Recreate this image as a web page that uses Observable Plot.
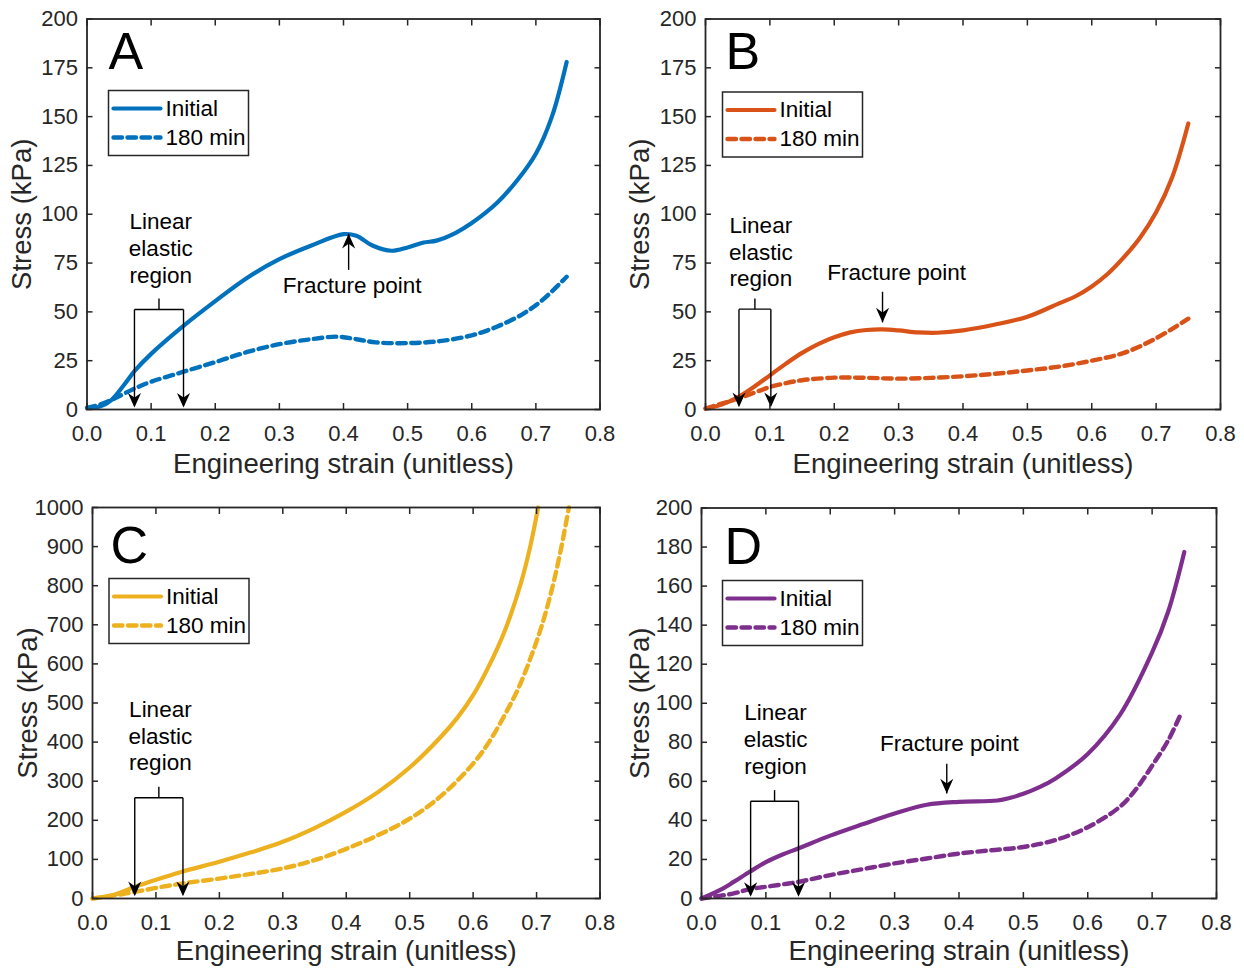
<!DOCTYPE html>
<html><head><meta charset="utf-8">
<script src="https://cdn.jsdelivr.net/npm/d3@7"></script>
<script src="https://cdn.jsdelivr.net/npm/@observablehq/plot@0.6"></script>
<style>
html,body{margin:0;padding:0;background:#fff;}
#fig{position:relative;width:1244px;height:969px;background:#fff;overflow:hidden;}
#fig > svg{position:absolute;}
</style></head><body><div id="fig"></div>
<script>
// ---------- tick labels ----------
const xTicks = [0, 0.1, 0.2, 0.3, 0.4, 0.5, 0.6, 0.7, 0.8];
const yTicksAB = [0, 25, 50, 75, 100, 125, 150, 175, 200];
const yTicksC = [0, 100, 200, 300, 400, 500, 600, 700, 800, 900, 1000];
const yTicksD = [0, 20, 40, 60, 80, 100, 120, 140, 160, 180, 200];
const seriesNames = ["Initial", "180 min"];
const xLabel = "Engineering strain (unitless)";
const yLabel = "Stress (kPa)";

// ---------- Panel A (blue) ----------
const A_initX = [0, 0.02, 0.037, 0.057, 0.075, 0.10, 0.148, 0.20, 0.25, 0.30, 0.35, 0.40, 0.42, 0.445, 0.475, 0.50, 0.525, 0.545, 0.575, 0.60, 0.64, 0.67, 0.70, 0.725, 0.748];
const A_initY = [0.8, 1.5, 4.6, 12.3, 20, 28.5, 42.2, 55.5, 67.5, 77, 84, 89.8, 89, 84, 81.3, 83, 85.5, 86.5, 90.5, 95.5, 106, 117, 131, 150, 178];
const A_agedX = [0, 0.02, 0.042, 0.073, 0.10, 0.148, 0.208, 0.25, 0.302, 0.35, 0.39, 0.42, 0.45, 0.50, 0.55, 0.60, 0.64, 0.68, 0.71, 0.748];
const A_agedY = [0.8, 2.5, 5.5, 10.6, 14.2, 19.1, 25.1, 29.5, 33.6, 36, 37.3, 36, 34.4, 34, 35, 38, 42.5, 49, 56, 68];

// ---------- Panel B (orange) ----------
const B_initX = [0, 0.025, 0.05, 0.075, 0.10, 0.125, 0.15, 0.175, 0.20, 0.225, 0.25, 0.275, 0.30, 0.33, 0.36, 0.40, 0.45, 0.50, 0.55, 0.575, 0.60, 0.625, 0.65, 0.675, 0.70, 0.725, 0.75];
const B_initY = [0.5, 2.5, 6.2, 11.5, 17.5, 23.5, 29, 33.5, 37, 39.5, 40.7, 41, 40.5, 39.5, 39.3, 40.5, 43.5, 47.5, 54.5, 58, 63, 69.5, 78, 88, 101, 119, 146.5];
const B_agedX = [0, 0.025, 0.05, 0.075, 0.10, 0.125, 0.15, 0.20, 0.25, 0.30, 0.35, 0.40, 0.45, 0.50, 0.55, 0.60, 0.65, 0.70, 0.75];
const B_agedY = [0.5, 3, 5.5, 8.5, 11.5, 13.5, 15, 16.3, 16.2, 15.8, 16.2, 17, 18.3, 20, 22, 25, 29, 36.5, 46.5];

// ---------- Panel C (yellow) ----------
const C_initX = [0, 0.035, 0.067, 0.10, 0.14, 0.20, 0.25, 0.30, 0.35, 0.40, 0.45, 0.50, 0.55, 0.575, 0.60, 0.625, 0.65, 0.675, 0.69, 0.7025];
const C_initY = [0, 10, 30, 48, 68, 94, 118, 145, 180, 222, 272, 335, 415, 462, 520, 595, 685, 805, 900, 1000];
const C_agedX = [0, 0.035, 0.067, 0.10, 0.14, 0.20, 0.25, 0.30, 0.35, 0.40, 0.45, 0.50, 0.55, 0.60, 0.625, 0.65, 0.672, 0.693, 0.709, 0.725, 0.738, 0.751];
const C_agedY = [0, 8, 17, 27, 38, 51, 63, 77, 98, 127, 162, 204, 263, 345, 400, 470, 540, 626, 702, 796, 890, 1000];

// ---------- Panel D (purple) ----------
const D_initX = [0, 0.033, 0.05, 0.075, 0.10, 0.125, 0.15, 0.20, 0.25, 0.30, 0.35, 0.40, 0.46, 0.48, 0.50, 0.525, 0.55, 0.60, 0.65, 0.70, 0.725, 0.75];
const D_initY = [0, 5.1, 8.5, 13.7, 18.6, 22.4, 25.6, 32.2, 38, 43.5, 48, 49.5, 50.2, 51.6, 53.6, 57, 61.5, 74, 94, 126, 147, 177.5];
const D_agedX = [0, 0.05, 0.075, 0.10, 0.15, 0.20, 0.25, 0.30, 0.35, 0.40, 0.45, 0.50, 0.55, 0.60, 0.65, 0.675, 0.70, 0.725, 0.746];
const D_agedY = [0, 2.6, 4.8, 6, 8.5, 12, 15, 18, 20.5, 23, 24.7, 26.4, 30, 36.5, 47, 56, 68, 81, 95.6];

// ---------- annotations (data coordinates) ----------
const linearText = "Linear\nelastic\nregion";
const fractureText = "Fracture point";
const A_bracket = {x1: 0.074, x2: 0.1505, yTop: 51.2, yStem: 56.9, yTip: 1, tx: 0.115, ty: 83};
const B_bracket = {x1: 0.052, x2: 0.1015, yTop: 51.4, yStem: 56.9, yTip: 1.2, tx: 0.086, ty: 81.2};
const C_bracket = {x1: 0.0666, x2: 0.1426, yTop: 257.7, yStem: 285.8, yTip: 6, tx: 0.107, ty: 418};
const D_bracket = {x1: 0.0763, x2: 0.1507, yTop: 49.8, yStem: 55.5, yTip: 0.9, tx: 0.115, ty: 81.9};
const A_fracture = {x: 0.408, yTail: 71.5, yTip: 90, up: true, tx: 0.4135, ty: 63.4};
const B_fracture = {x: 0.275, yTail: 60.3, yTip: 44.6, up: false, tx: 0.297, ty: 70.1};
const D_fracture = {x: 0.381, yTail: 69, yTip: 53.8, up: false, tx: 0.385, ty: 79.4};

// ---------- layout / style ----------
const panels = [
  {key: "A", color: "#0072BD", yMax: 200, yTicks: yTicksAB, init: [A_initX, A_initY], aged: [A_agedX, A_agedY], br: A_bracket, fr: A_fracture,
   left: 0, top: 0, width: 622, height: 485, ml: 86.5, mr: 22.5, mt: 18.5, mb: 76, letter: [21.5, 13.5], legend: [21.5, 71.5], xlabDy: 55, ylabDx: -64.5},
  {key: "B", color: "#D95319", yMax: 200, yTicks: yTicksAB, init: [B_initX, B_initY], aged: [B_agedX, B_agedY], br: B_bracket, fr: B_fracture,
   left: 622, top: 0, width: 622, height: 485, ml: 83, mr: 24, mt: 18.5, mb: 76, letter: [20, 13.5], legend: [17, 73], xlabDy: 55, ylabDx: -65},
  {key: "C", color: "#EDB120", yMax: 1000, yTicks: yTicksC, init: [C_initX, C_initY], aged: [C_agedX, C_agedY], br: C_bracket, fr: null,
   left: 0, top: 485, width: 622, height: 484, ml: 92, mr: 22.5, mt: 22, mb: 71, letter: [18, 18.5], legend: [16.5, 71], xlabDy: 53, ylabDx: -64},
  {key: "D", color: "#7E2F8E", yMax: 200, yTicks: yTicksD, init: [D_initX, D_initY], aged: [D_agedX, D_agedY], br: D_bracket, fr: D_fracture,
   left: 622, top: 485, width: 622, height: 484, ml: 79, mr: 28, mt: 22.5, mb: 71, letter: [23, 19.5], legend: [21, 72.5], xlabDy: 53, ylabDx: -61}
];

const axisColor = "#262626";
const arrowDown = {draw(ctx, size) {
  const r = Math.sqrt(size / Math.PI), h = 2 * r, w = 0.9 * r;
  ctx.moveTo(0, 0); ctx.lineTo(-w, -h); ctx.lineTo(0, -0.68 * h); ctx.lineTo(w, -h); ctx.closePath();
}};
const segShape = {draw(ctx, l) { ctx.moveTo(0, 0); ctx.lineTo(0, -l); }};

function pts(xs, ys) { return xs.map((x, i) => ({x, y: ys[i]})); }

function panel(p) {
  const fw = p.width - p.ml - p.mr, fh = p.height - p.mt - p.mb;
  const b = p.br;
  const xm = (b.x1 + b.x2) / 2;
  const segs = [
    {x1: b.x1, y1: b.yTop, x2: b.x2, y2: b.yTop},
    {x1: b.x1, y1: b.yTop, x2: b.x1, y2: b.yTip + 2 * (p.yMax / 400)},
    {x1: b.x2, y1: b.yTop, x2: b.x2, y2: b.yTip + 2 * (p.yMax / 400)},
    {x1: xm, y1: b.yTop, x2: xm, y2: b.yStem}
  ];
  const heads = [{x: b.x1, y: b.yTip, r: 0}, {x: b.x2, y: b.yTip, r: 0}];
  const marks = [
    Plot.line(pts(p.aged[0], p.aged[1]), {x: "x", y: "y", stroke: p.color, strokeWidth: 4.4, strokeDasharray: "8.5,5.5", curve: "catmull-rom"}),
    Plot.line(pts(p.init[0], p.init[1]), {x: "x", y: "y", stroke: p.color, strokeWidth: 4.2, curve: "catmull-rom"}),
    Plot.link(segs, {x1: "x1", y1: "y1", x2: "x2", y2: "y2", stroke: "black", strokeWidth: 1.4}),
    Plot.text([{x: b.tx, y: b.ty, t: linearText}], {x: "x", y: "y", text: "t", fontSize: 22.5, lineHeight: 1.19, lineAnchor: "middle", fill: "black"})
  ];
  if (p.fr) {
    const f = p.fr;
    marks.push(Plot.link([{x1: f.x, y1: f.yTail, x2: f.x, y2: f.yTip}], {x1: "x1", y1: "y1", x2: "x2", y2: "y2", stroke: "black", strokeWidth: 1.4}));
    heads.push({x: f.x, y: f.yTip, r: f.up ? 180 : 0});
    marks.push(Plot.text([{x: f.tx, y: f.ty, t: fractureText}], {x: "x", y: "y", text: "t", fontSize: 22.5, lineAnchor: "middle", fill: "black"}));
  }
  marks.push(Plot.dot(heads, {x: "x", y: "y", rotate: "r", symbol: arrowDown, r: 7.3, fill: "black", stroke: "none"}));
  // legend
  const [lx, ly] = p.legend;
  marks.push(
    Plot.frame({fill: "white", stroke: axisColor, strokeWidth: 1.5, insetLeft: lx, insetTop: ly, insetRight: fw - lx - 140, insetBottom: fh - ly - 65}),
    Plot.vector([0], {frameAnchor: "top-left", dx: lx + 5, dy: ly + 18, length: 47, rotate: 90, anchor: "start", shape: segShape, stroke: p.color, strokeWidth: 4.2}),
    Plot.vector([0], {frameAnchor: "top-left", dx: lx + 5, dy: ly + 47, length: 47, rotate: 90, anchor: "start", shape: segShape, stroke: p.color, strokeWidth: 4.4, strokeDasharray: "8.5,5.5"}),
    Plot.text([seriesNames[0]], {frameAnchor: "top-left", dx: lx + 57, dy: ly + 18, textAnchor: "start", lineAnchor: "middle", fontSize: 22.5, fill: "black"}),
    Plot.text([seriesNames[1]], {frameAnchor: "top-left", dx: lx + 57, dy: ly + 47, textAnchor: "start", lineAnchor: "middle", fontSize: 22.5, fill: "black"}),
    Plot.text([p.key], {frameAnchor: "top-left", dx: p.letter[0], dy: p.letter[1], textAnchor: "start", lineAnchor: "top", fontSize: 52, fill: "black"})
  );
  // axes
  marks.push(
    Plot.frame({stroke: axisColor, strokeWidth: 1.8}),
    Plot.axisX({anchor: "bottom", ticks: xTicks, tickSize: -6, tickPadding: 21.5, tickFormat: d3.format(".1f"), label: null, fontSize: 22, stroke: axisColor, strokeWidth: 1.5}),
    Plot.axisX({anchor: "top", ticks: xTicks, tickSize: -6, tickFormat: () => "", label: null, stroke: axisColor, strokeWidth: 1.5}),
    Plot.axisY({anchor: "left", ticks: p.yTicks, tickSize: -6, tickPadding: 15, tickFormat: d => String(d), label: null, fontSize: 22, stroke: axisColor, strokeWidth: 1.5}),
    Plot.axisY({anchor: "right", ticks: p.yTicks, tickSize: -6, tickFormat: () => "", label: null, stroke: axisColor, strokeWidth: 1.5}),
    Plot.text([xLabel], {frameAnchor: "bottom", dy: p.xlabDy, textAnchor: "middle", lineAnchor: "middle", fontSize: 27.5, fill: axisColor}),
    Plot.text([yLabel], {frameAnchor: "left", dx: p.ylabDx, rotate: -90, textAnchor: "middle", lineAnchor: "middle", fontSize: 27.5, fill: axisColor})
  );
  const svg = Plot.plot({
    width: p.width, height: p.height,
    marginLeft: p.ml, marginRight: p.mr, marginTop: p.mt, marginBottom: p.mb,
    x: {domain: [0, 0.8]},
    y: {domain: [0, p.yMax]},
    style: {fontFamily: "'Liberation Sans', Arial, Helvetica, sans-serif", fontSize: "22px", color: axisColor, background: "transparent", overflow: "visible"},
    marks
  });
  svg.style.left = p.left + "px";
  svg.style.top = p.top + "px";
  return svg;
}

const fig = document.getElementById("fig");
for (const p of panels) fig.appendChild(panel(p));
</script></body></html>
